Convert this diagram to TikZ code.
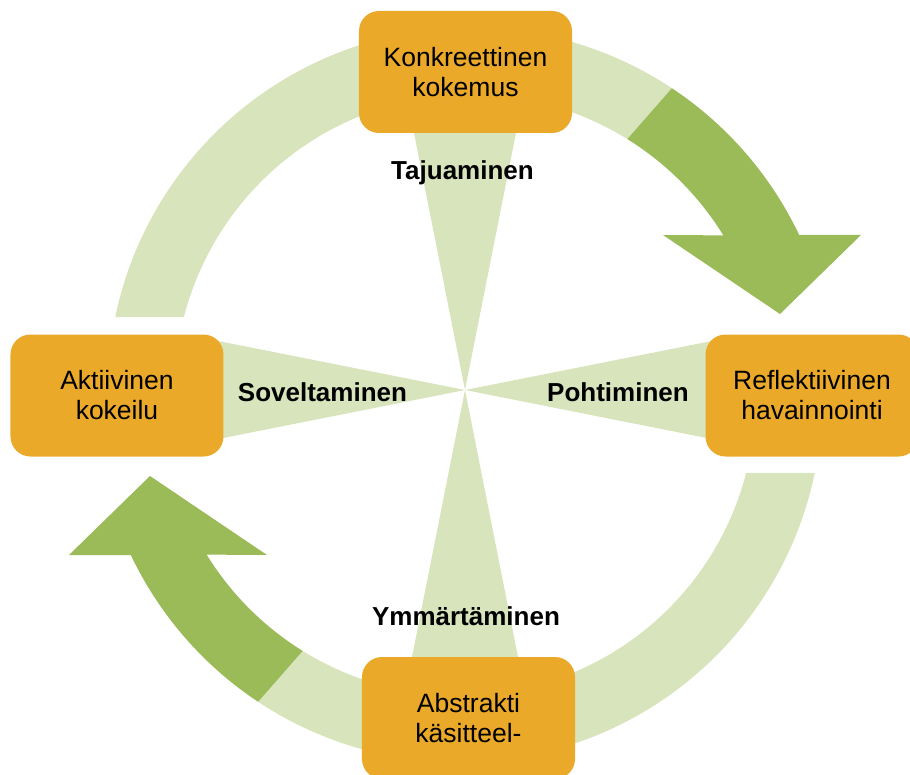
\documentclass[tikz,border=0pt]{standalone}
\usepackage{fontspec}
\setmainfont{Liberation Sans}
\usetikzlibrary{calc}

\definecolor{stageorange}{HTML}{EBA92A}
\definecolor{ringlight}{HTML}{D8E4BC}
\definecolor{ringdark}{HTML}{9BBB59}

\tikzset{
    stage/.style={fill=stageorange, rounded corners=20pt, minimum width=213pt,
        minimum height=122pt, inner sep=0pt, align=center,
        font=\fontsize{26.5}{30}\selectfont},
    phase/.style={anchor=base, font=\fontsize{26}{30}\selectfont\bfseries}
}

\begin{document}
\begin{tikzpicture}[x=1pt, y=1pt]
    \useasboundingbox (-465,-379) rectangle (445,395);
    \pgfmathsetmacro{\Rout}{363.4}
    \pgfmathsetmacro{\Rin}{296.5}
    \foreach \turn in {0,180} {
        % 薄い円弧と濃い矢印を点対称に二つ描く
        \begin{scope}[rotate=\turn]
            \coordinate (c) at (6,4);
            \fill[ringlight] ($(c)+(168.25:\Rout)$)
                arc[start angle=168.25, end angle=56.44, radius=\Rout]
                -- ($(c)+(58.18:\Rin)$)
                arc[start angle=58.18, end angle=165.55, radius=\Rin] -- cycle;
            \fill[ringdark] ($(c)+(56.44:\Rout)$)
                arc[start angle=56.44, end angle=25.44, radius=\Rout]
                -- (396,160) -- (315,81) -- (198,160)
                -- ($(c)+(31.66:\Rin)$)
                arc[start angle=31.66, end angle=58.18, radius=\Rin] -- cycle;
        \end{scope}
    }
    % 中心から四方へ伸びる三角形
    \coordinate (hub) at (0,5);
    \foreach \a in {0,90,180,270}
        \fill[ringlight, rotate around={\a:(hub)}] (hub) -- ++(-54,272) -- ++(108,0) -- cycle;

    \node[stage] (kokemus) at (0.5,323) {Konkreettinen\\kokemus};
    \node[stage] (havainnointi) at (347,-0.5) {Reflektiivinen\\havainnointi};
    \node[stage] (kasitteel) at (3.5,-323) {Abstrakti\\käsitteel-};
    \node[stage] (kokeilu) at (-348,-0.5) {Aktiivinen\\kokeilu};

    \node[phase] (tajuaminen) at (-2.5,215) {Tajuaminen};
    \node[phase] (pohtiminen) at (153,-6) {Pohtiminen};
    \node[phase] (ymmartaminen) at (1,-230) {Ymmärtäminen};
    \node[phase] (soveltaminen) at (-142.5,-6) {Soveltaminen};
\end{tikzpicture}
\end{document}
